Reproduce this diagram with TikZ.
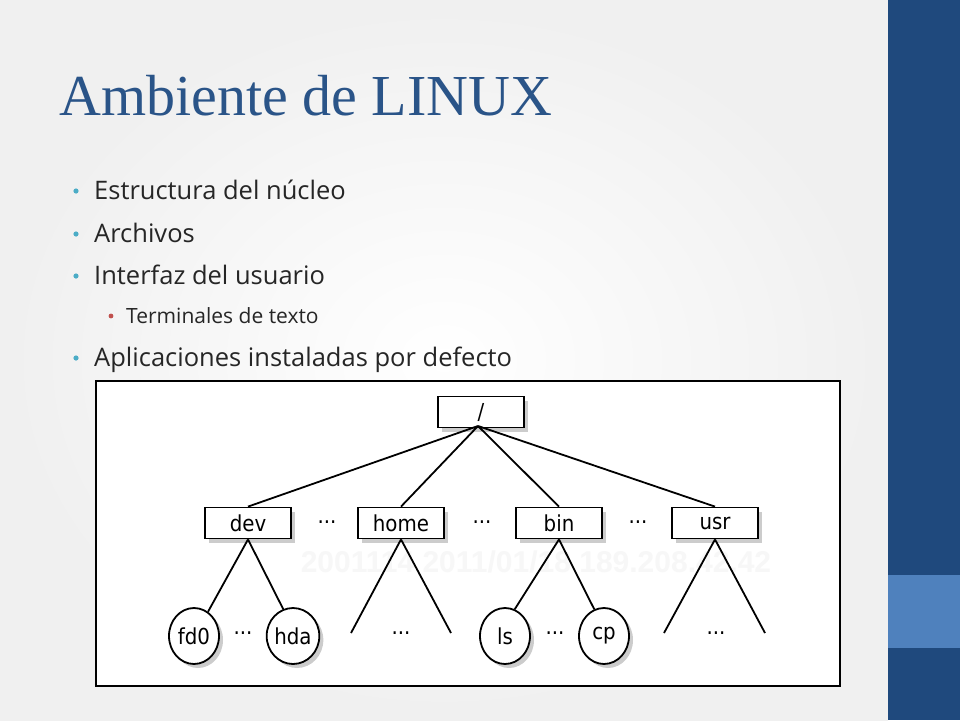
\documentclass[tikz,border=0pt]{standalone}
\usepackage{fontspec}
\setmainfont{Open Sans}
\newfontfamily\titlefont{Liberation Serif}
\newfontfamily\treefont{DejaVu Sans Condensed}
\newfontfamily\wmfont{Liberation Sans}
\usetikzlibrary{shadows,shapes.geometric}
\definecolor{dkblue}{HTML}{1F497D}
\definecolor{ltblue}{HTML}{4F81BD}
\definecolor{bul}{HTML}{4BACC6}
\definecolor{redb}{HTML}{C0504D}
\definecolor{titlec}{HTML}{2A5488}
\tikzset{
 dir/.style={draw, line width=1.8pt, fill=white, minimum width=86pt, minimum height=31pt, inner sep=0pt, font=\treefont\fontsize{22}{22}\selectfont, drop shadow={shadow xshift=4pt,shadow yshift=-4pt,opacity=0.4}},
 leaf/.style={draw, line width=1.8pt, fill=white, ellipse, minimum width=50pt, minimum height=56pt, inner sep=0pt, font=\treefont\fontsize{22}{22}\selectfont, drop shadow={shadow xshift=4pt,shadow yshift=-4pt,opacity=0.4}},
 edge/.style={line width=1.8pt},
 dots/.style={font=\treefont\fontsize{22}{22}\selectfont},
 item/.style={anchor=base west, font=\fontsize{25.5}{25.5}\selectfont, text=black!85},
 subitem/.style={anchor=base west, font=\fontsize{21}{21}\selectfont, text=black!85},
}
\begin{document}
\begin{tikzpicture}[x=1pt,y=-1pt]
\useasboundingbox (0,0) rectangle (960,720);
\shade[inner color=white, outer color=black!6] (0,0) rectangle (888,720);
\fill[dkblue] (888,0) rectangle (960,720);
\fill[ltblue] (888,575) rectangle (960,648);
\node[anchor=base west, inner sep=0, text=titlec, font=\titlefont\fontsize{58}{58}\selectfont] (title) at (59,115) {Ambiente de LINUX};
\foreach \y/\t [count=\i] in {199/Estructura del núcleo,242/Archivos,284/Interfaz del usuario,366/Aplicaciones instaladas por defecto}{
 \node[item, inner sep=0] (it\i) at (94,\y) {\t};
 \fill[bul] (76,\y-8) circle (2.6);
}
\node[subitem, inner sep=0] (sub) at (126,323) {Terminales de texto};
\fill[redb] (111,316) circle (2.4);
% frame
\draw[line width=1.4pt, fill=white] (96,381) rectangle (840,686);
\node[text=black!3, font=\wmfont\bfseries\fontsize{30}{30}\selectfont] (wm) at (536,562) {2001114 2011/01/18 189.208.42.42};
\node[dir] (root) at (481,412) {/};
\node[dir] (dev) at (248,523) {dev};
\node[dir] (home) at (401,523) {home};
\node[dir] (bin) at (559,523) {bin};
\node[dir] (usr) at (715,523) {usr};
\node[dots] (d1) at (327,522) {...};
\node[dots] (d2) at (482,522) {...};
\node[dots] (d3) at (638,522) {...};
\node[leaf] (fd0) at (194,636) {fd0};
\node[leaf] (hda) at (293,636) {hda};
\node[leaf] (ls) at (505,636) {ls};
\node[leaf] (cp) at (604,636) {cp};
\node[dots] (d4) at (243,633) {...};
\node[dots] (d5) at (555,633) {...};
\node[dots] (d6) at (401,633) {...};
\node[dots] (d7) at (716,633) {...};
\coordinate (h1) at (351,633); \coordinate (h2) at (451,633);
\coordinate (u1) at (664,633); \coordinate (u2) at (765,633);
\coordinate (rb) at (478,426);
\draw[edge] (rb) -- (dev.north) (rb) -- (home.north) (rb) -- (bin.north) (rb) -- (usr.north);
\draw[edge] (dev.south) -- (fd0.60) (dev.south) -- (hda.110);
\draw[edge] (bin.south) -- (ls.70) (bin.south) -- (cp.110);
\draw[edge] (home.south) -- (h1) (home.south) -- (h2);
\draw[edge] (usr.south) -- (u1) (usr.south) -- (u2);
\end{tikzpicture}
\end{document}
